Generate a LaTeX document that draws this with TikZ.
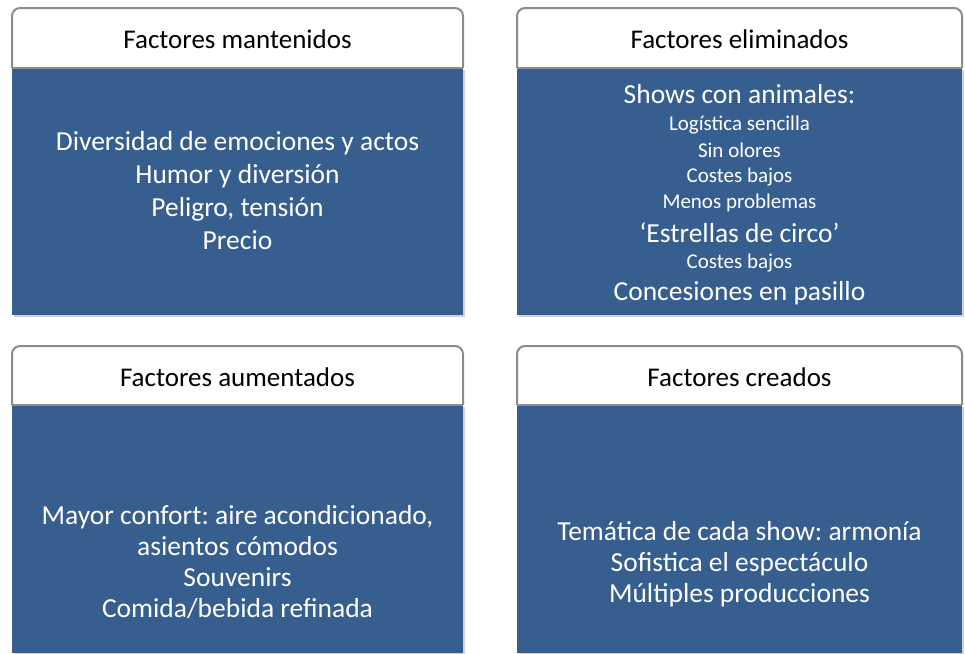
\documentclass[tikz,border=0pt]{standalone}
\usepackage{fontspec}
\setmainfont{Carlito}
\usepackage[HTML]{xcolor}
\usepackage{tikz}
\usetikzlibrary{positioning}
\frenchspacing

\definecolor{panelblue}{HTML}{365E8F}
\definecolor{rimgray}{HTML}{8C8C8C}

\begin{document}
\begin{tikzpicture}[x=1pt, y=-1pt,
  hdrtext/.style={font=\fontsize{27}{32}\selectfont, text=black, anchor=base, inner sep=0pt},
  bigtext/.style={font=\fontsize{27.5}{33}\selectfont, text=white, anchor=base, inner sep=0pt},
  smalltext/.style={font=\fontsize{21}{25}\selectfont, text=white, anchor=base, inner sep=0pt},
  hdrline/.style={draw=rimgray, line width=2pt},
  shade/.style={fill=black, opacity=0.18}]
\useasboundingbox (0,0) rectangle (965,653);

% Factores mantenidos
\fill[shade] (14,70) rectangle (465,317);
\fill[panelblue] (12,68) rectangle (463,315);
\filldraw[hdrline, fill=white, rounded corners=8pt] (12,68) -- (12,8) -- (463,8) -- (463,68);
\draw[hdrline] (12,68) -- (463,68);
\node[hdrtext] (hdrKept) at (237.5,48) {Factores mantenidos};
\foreach \t [count=\i] in {Diversidad de emociones y actos, Humor y diversión,
    {Peligro, tensión}, Precio}
  \node[bigtext] (kept\i) at (237.5,{150+33.3*(\i-1)}) {\t};

% Factores eliminados
\fill[shade] (519,70) rectangle (964,317);
\fill[panelblue] (517,68) rectangle (962,315);
\filldraw[hdrline, fill=white, rounded corners=8pt] (517,68) -- (517,8) -- (962,8) -- (962,68);
\draw[hdrline] (517,68) -- (962,68);
\node[hdrtext] (hdrDropped) at (739.5,48) {Factores eliminados};
\node[bigtext] (dropA) at (739.5,103) {Shows con animales:};
\node[smalltext] (dropB) at (739.5,130) {Logística sencilla};
\node[smalltext] (dropC) at (739.5,157) {Sin olores};
\node[smalltext] (dropD) at (739.5,182) {Costes bajos};
\node[smalltext] (dropE) at (739.5,208) {Menos problemas};
\node[bigtext] (dropF) at (739.5,242) {‘Estrellas de circo’};
\node[smalltext] (dropG) at (739.5,268) {Costes bajos};
\node[bigtext] (dropH) at (739.5,300) {Concesiones en pasillo};

% Factores aumentados
\fill[shade] (14,407) rectangle (465,655);
\fill[panelblue] (12,405) rectangle (463,653);
\filldraw[hdrline, fill=white, rounded corners=8pt] (12,405) -- (12,346) -- (463,346) -- (463,405);
\draw[hdrline] (12,405) -- (463,405);
\node[hdrtext] (hdrRaised) at (237.5,386) {Factores aumentados};
\foreach \t [count=\i] in {{Mayor confort: aire acondicionado,}, asientos cómodos,
    Souvenirs, Comida/bebida refinada}
  \node[bigtext] (raised\i) at (237.5,{524+31*(\i-1)}) {\t};

% Factores creados
\fill[shade] (519,407) rectangle (964,655);
\fill[panelblue] (517,405) rectangle (962,653);
\filldraw[hdrline, fill=white, rounded corners=8pt] (517,405) -- (517,346) -- (962,346) -- (962,405);
\draw[hdrline] (517,405) -- (962,405);
\node[hdrtext] (hdrNew) at (739.5,386) {Factores creados};
\foreach \t [count=\i] in {Temática de cada show: armonía, Sofistica el espectáculo,
    Múltiples producciones}
  \node[bigtext] (new\i) at (739.5,{540+31*(\i-1)}) {\t};
\end{tikzpicture}
\end{document}
